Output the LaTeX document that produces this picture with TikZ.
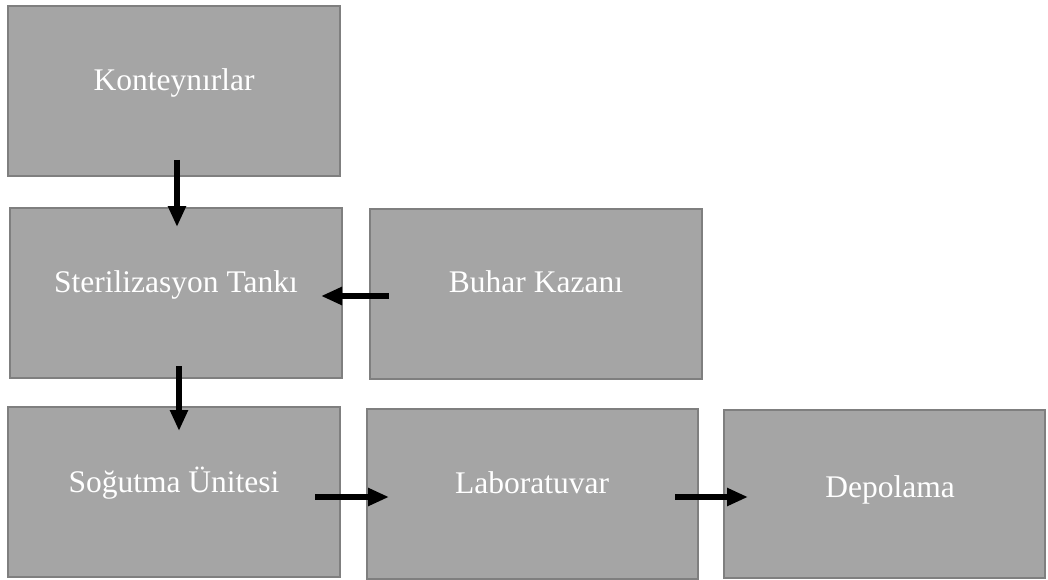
\documentclass[tikz,border=0pt]{standalone}
\usepackage{fontspec}
\setmainfont{Liberation Serif}
\usetikzlibrary{arrows.meta}
\definecolor{boxfill}{HTML}{A5A5A5}
\definecolor{boxline}{HTML}{7F7F7F}
\begin{document}
\begin{tikzpicture}[x=1pt,y=-1pt,
  box/.style={draw=boxline,fill=boxfill,line width=2pt,inner sep=0pt,rectangle},
  lbl/.style={text=white,font=\fontsize{31.5}{36}\selectfont,anchor=base,inner sep=0pt},
  flow/.style={line width=5.5pt,-{Triangle[length=21pt,width=17pt]},shorten >=0pt}]
\useasboundingbox (0,0) rectangle (1048,580);
\node[box,minimum width=332pt,minimum height=170pt] (kont) at (174,91) {};
\node[box,minimum width=332pt,minimum height=170pt] (ster) at (176,293) {};
\node[box,minimum width=332pt,minimum height=170pt] (buhar) at (536,294) {};
\node[box,minimum width=332pt,minimum height=170pt] (sog) at (174,492) {};
\node[box,minimum width=331pt,minimum height=170pt] (lab) at (532.5,494) {};
\node[box,minimum width=321pt,minimum height=168pt] (depo) at (884.5,494) {};
\node[lbl] (tkont) at (174,91) {Konteynırlar};
\node[lbl] (tster) at (176,292) {Sterilizasyon Tankı};
\node[lbl] (tbuhar) at (536,292) {Buhar Kazanı};
\node[lbl] (tsog) at (174,492) {Soğutma Ünitesi};
\node[lbl] (tlab) at (532,493) {Laboratuvar};
\node[lbl] (tdepo) at (890,497) {Depolama};
\coordinate (a1s) at (177,160); \coordinate (a1e) at (177,227);
\coordinate (a2s) at (389,296); \coordinate (a2e) at (321,296);
\coordinate (a3s) at (179,366); \coordinate (a3e) at (179,431);
\coordinate (a4s) at (315,497); \coordinate (a4e) at (389,497);
\coordinate (a5s) at (675,497); \coordinate (a5e) at (748,497);
\draw[flow] (a1s) -- (a1e);
\draw[flow] (a2s) -- (a2e);
\draw[flow] (a3s) -- (a3e);
\draw[flow] (a4s) -- (a4e);
\draw[flow] (a5s) -- (a5e);
\end{tikzpicture}
\end{document}
